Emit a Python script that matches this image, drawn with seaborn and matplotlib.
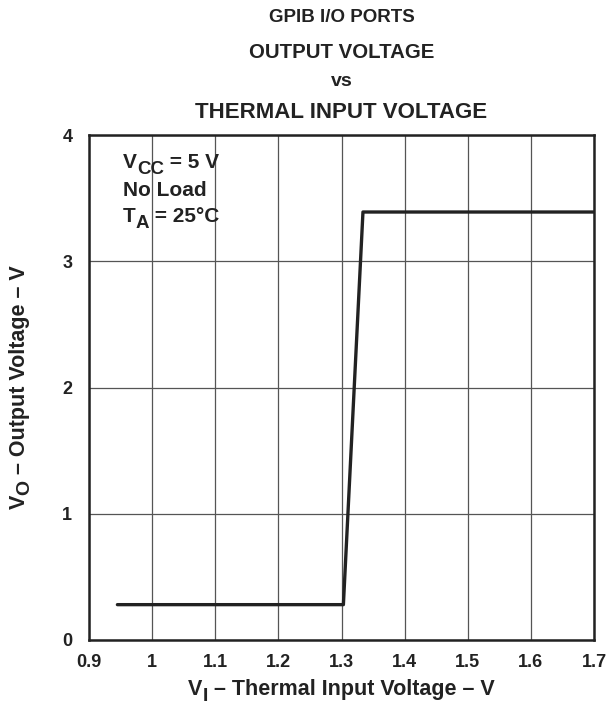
import matplotlib
matplotlib.use("Agg")
import matplotlib.pyplot as plt
import seaborn as sns
import pandas as pd

# Data
vi = [0.945, 1.303, 1.334, 1.70]
vo = [0.28, 0.28, 3.39, 3.39]
x_ticks = [0.9, 1.0, 1.1, 1.2, 1.3, 1.4, 1.5, 1.6, 1.7]
x_labels = ["0.9", "1", "1.1", "1.2", "1.3", "1.4", "1.5", "1.6", "1.7"]
y_ticks = [0, 1, 2, 3, 4]
y_labels = ["0", "1", "2", "3", "4"]

INK = "#222222"
sns.set_style("white")
plt.rcParams['font.family'] = ['Liberation Sans', 'DejaVu Sans']
plt.rcParams['font.weight'] = 'bold'

fig = plt.figure(figsize=(6.12, 7.11), dpi=100)
ax = fig.add_axes([89/612, 71/711, 505/612, 505/711])

df = pd.DataFrame({"vi": vi, "vo": vo})
sns.lineplot(data=df, x="vi", y="vo", sort=False, color=INK, linewidth=2.4, ax=ax)

ax.set_xlim(0.9, 1.7)
ax.set_ylim(0, 4)
ax.set_xticks(x_ticks)
ax.set_xticklabels(x_labels, fontsize=13, fontweight='bold')
ax.set_yticks(y_ticks)
ax.set_yticklabels(y_labels, fontsize=13, fontweight='bold')
ax.tick_params(axis='both', length=0, colors=INK)
ax.tick_params(axis='x', pad=10)
ax.tick_params(axis='y', pad=12)
ax.grid(True, color="#555555", linewidth=0.9)
for s in ax.spines.values():
    s.set_visible(True)
    s.set_color(INK)
    s.set_linewidth(1.8)
ax.set_xlabel("")
ax.set_ylabel("")


def rich(pieces, x, y, rotation=0):
    """pieces: list of (text, fontsize, baseline shift in points). x, y in figure pixels."""
    prev = None
    for txt, size, dy in pieces:
        kw = dict(fontsize=size, fontweight='bold', color=INK, ha='left', va='baseline',
                  rotation=rotation, rotation_mode='anchor', annotation_clip=False)
        if prev is None:
            prev = fig.text(x / 612, y / 711, txt, fontsize=size, fontweight='bold', color=INK,
                            ha='left', va='baseline', rotation=rotation, rotation_mode='anchor')
            continue
        if rotation == 0:
            prev = ax.annotate(txt, xy=(1, y), xycoords=(prev, 'figure pixels'),
                               xytext=(0, dy), textcoords='offset points', **kw)
        else:
            prev = ax.annotate(txt, xy=(x, 1), xycoords=('figure pixels', prev),
                               xytext=(-dy, 0), textcoords='offset points', **kw)
    return prev


# x axis label
rich([("V", 15.5, 0), ("I", 14, -4), (" – Thermal Input Voltage – V", 15.5, 0)], 188, 16)
# y axis label
rich([("V", 15.5, 0), ("O", 14, -3), (" – Output Voltage – V", 15.5, 0)], 25, 202, rotation=90)

# annotation block
rich([("V", 15, 0), ("CC", 13.5, -4.5), (" = 5 V", 15, 0)], 123, 543)
rich([("No Load", 15, 0)], 123, 515)
rich([("T", 15, 0), ("A", 13.5, -4.5), (" = 25°C", 15, 0)], 123, 489)

cx = (89 + 594) / 2 / 612
fig.text(cx, 1 - 18/711, "GPIB I/O PORTS", ha='center', va='center', fontsize=13.5, fontweight='bold', color=INK)
fig.text(cx, 1 - 52/711, "OUTPUT VOLTAGE", ha='center', va='center', fontsize=14.7, fontweight='bold', color=INK)
fig.text(cx, 1 - 82/711, "vs", ha='center', va='center', fontsize=14, fontweight='bold', color=INK)
fig.text(cx, 1 - 112/711, "THERMAL INPUT VOLTAGE", ha='center', va='center', fontsize=16, fontweight='bold', color=INK)

fig.savefig("out.png", dpi=100)
